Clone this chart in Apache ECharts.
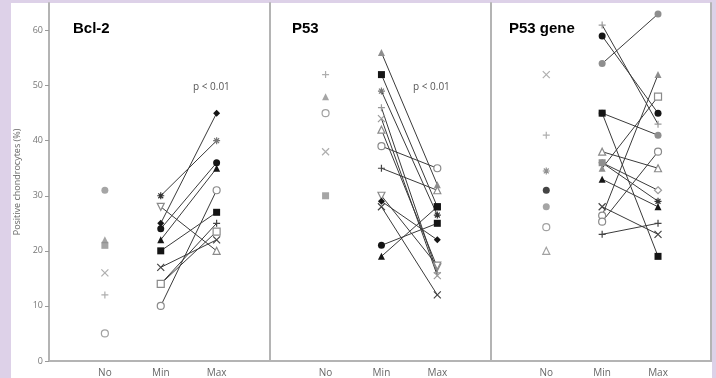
<!DOCTYPE html>
<html>
<head>
<meta charset="utf-8">
<script src="https://cdn.jsdelivr.net/npm/echarts@6/dist/echarts.min.js"></script>
<style>
html, body { margin: 0; padding: 0; background: #ddd1e8; }
#paper { position: absolute; left: 11px; top: 3px; width: 701px; height: 375px; background: #fff; }
#chart { position: absolute; left: 0; top: 0; width: 716px; height: 378px; }
</style>
</head>
<body>
<div id="paper"></div>
<div id="chart"></div>
<script>
// column labels (x = 1, 2, 3) and y ticks
const categories = ['No', 'Min', 'Max'];
const yTicks = [0, 10, 20, 30, 40, 50, 60];
const panelNames = ['Bcl-2', 'P53', 'P53 gene'];
const pValues = ['p < 0.01', 'p < 0.01'];

// Bcl-2
const bclNo = [31, 22, 21, 16, 12, 5];
const bclNoMarks = ['gdot', 'gtri', 'gsq', 'lcross', 'lplus', 'ring'];
const bclMin = [30, 28, 25, 24, 22, 20, 17, 14, 14, 10];
const bclMax = [40, 20, 45, 36, 35, 27, 22, 25, 23.5, 31];
const bclMinMarks = ['star', 'itri', 'dia', 'dot', 'tri', 'sq', 'cross', 'plus', 'osq', 'ring'];
const bclMaxMarks = ['gstar', 'otri', 'dia', 'dot', 'tri', 'sq', 'cross', 'plus', 'osq', 'ring'];

// P53
const p53No = [52, 48, 45, 38, 30];
const p53NoMarks = ['lplus', 'gtri', 'ring', 'lcross', 'gsq'];
const p53Min = [56, 52, 49, 46, 44, 42, 39, 35, 30, 29, 28, 21, 19];
const p53Max = [32, 28, 26.5, 16, 15.5, 17, 35, 31, 17.3, 22, 12, 25, 28];
const p53MinMarks = ['gtri', 'sq', 'gstar', 'lplus', 'lcross', 'otri', 'ring', 'plus', 'itri', 'dia', 'cross', 'dot', 'tri'];
const p53MaxMarks = ['gtri', 'sq', 'star', 'lplus', 'lcross', 'itri', 'ring', 'otri', 'itri', 'dia', 'cross', 'sq', 'sq'];

// P53 gene
const geneNo = [52, 41, 34.5, 31, 28, 24.3, 20];
const geneNoMarks = ['lcross', 'lplus', 'gstar', 'dot', 'gdot', 'ring', 'otri'];
const geneMin = [61, 59, 54, 45, 45, 38, 36, 35, 33, 28, 26.4, 25.3, 23, 36];
const geneMax = [43, 45, 63, 41, 19, 35, 29, 48, 28, 23, 52, 38, 25, 31];
const geneMinMarks = ['lplus', 'dot', 'gdot', 'gdot', 'sq', 'otri', 'gstar', 'gtri', 'tri', 'cross', 'ring', 'ring', 'plus', 'gsq'];
const geneMaxMarks = ['lplus', 'dot', 'gdot', 'gdot', 'sq', 'otri', 'star', 'osq', 'tri', 'cross', 'gtri', 'ring', 'plus', 'odia'];

const panels = [
	{ no: bclNo, noMarks: bclNoMarks, min: bclMin, max: bclMax, minMarks: bclMinMarks, maxMarks: bclMaxMarks },
	{ no: p53No, noMarks: p53NoMarks, min: p53Min, max: p53Max, minMarks: p53MinMarks, maxMarks: p53MaxMarks },
	{ no: geneNo, noMarks: geneNoMarks, min: geneMin, max: geneMax, minMarks: geneMinMarks, maxMarks: geneMaxMarks }
];

const PLUS = 'path://M5,0V10M0,5H10';
const CROSS = 'path://M0,0L10,10M10,0L0,10';
const STAR = 'path://M5,0V10M0,5H10M1.5,1.5L8.5,8.5M8.5,1.5L1.5,8.5';
const BLACK = '#151515';
const GREY = '#8e8e8e';
const marks = {
	dot: { symbol: 'circle', color: BLACK },
	gdot: { symbol: 'circle', color: GREY },
	ring: { symbol: 'circle', color: '#fff', border: '#8a8a8a' },
	sq: { symbol: 'rect', color: BLACK },
	gsq: { symbol: 'rect', color: GREY },
	osq: { symbol: 'rect', color: '#fff', border: '#8a8a8a' },
	tri: { symbol: 'triangle', color: BLACK },
	gtri: { symbol: 'triangle', color: GREY },
	otri: { symbol: 'triangle', color: '#fff', border: '#8a8a8a' },
	itri: { symbol: 'triangle', color: '#fff', border: '#8a8a8a', rotate: 180 },
	dia: { symbol: 'diamond', color: BLACK },
	odia: { symbol: 'diamond', color: '#fff', border: '#9a9a9a' },
	plus: { symbol: PLUS, color: 'none', border: '#444' },
	lplus: { symbol: PLUS, color: 'none', border: '#9a9a9a' },
	cross: { symbol: CROSS, color: 'none', border: '#444' },
	lcross: { symbol: CROSS, color: 'none', border: '#9a9a9a' },
	star: { symbol: STAR, color: 'none', border: '#333' },
	gstar: { symbol: STAR, color: 'none', border: '#777' }
};

function point(x, y, key) {
	const m = marks[key];
	return {
		value: [x, y],
		symbol: m.symbol,
		symbolRotate: m.rotate || 0,
		symbolSize: 7,
		itemStyle: {
			color: m.color,
			borderColor: m.border || m.color,
			borderWidth: m.border ? 1.2 : 0
		}
	};
}

const panelLeft = 49;
const panelWidth = 220.7;
const axisGrey = '#b4b4b4';
const font = 'Open Sans';

const grids = [];
const xAxes = [];
const yAxes = [];
const series = [];

panels.forEach((p, i) => {
	grids.push({ left: panelLeft + panelWidth * i, width: panelWidth, top: 3, bottom: 14 });
	xAxes.push({
		type: 'value',
		gridIndex: i,
		min: 0,
		max: 3.95,
		interval: 1,
		splitLine: { show: false },
		axisTick: { show: false },
		axisLine: { show: true, lineStyle: { color: axisGrey, width: 2 } },
		axisLabel: {
			customValues: [1, 2, 3],
			formatter: (v) => categories[v - 1] || '',
			color: '#666',
			fontSize: 10,
			fontFamily: font,
			margin: 7
		}
	});
	yAxes.push({
		type: 'value',
		gridIndex: i,
		min: 0,
		max: 65,
		interval: 10,
		splitLine: { show: false },
		axisLine: { show: true, lineStyle: { color: axisGrey, width: 2 } },
		axisTick: { show: i === 0, customValues: yTicks, length: 4, lineStyle: { color: '#999' } },
		axisLabel: { show: i === 0, customValues: yTicks, color: '#777', fontSize: 9, fontFamily: font, margin: 6 },
		name: i === 0 ? 'Positive chondrocytes (%)' : '',
		nameLocation: 'middle',
		nameGap: 27,
		nameTextStyle: { color: '#666', fontSize: 9, fontFamily: font }
	});
	series.push({
		type: 'scatter',
		xAxisIndex: i,
		yAxisIndex: i,
		silent: true,
		z: 3,
		data: p.no.map((v, k) => point(1, v, p.noMarks[k]))
	});
	p.min.forEach((v, k) => {
		series.push({
			type: 'line',
			xAxisIndex: i,
			yAxisIndex: i,
			silent: true,
			z: 2,
			lineStyle: { color: '#3a3a3a', width: 1 },
			data: [point(2, v, p.minMarks[k]), point(3, p.max[k], p.maxMarks[k])]
		});
	});
});

// right border of the last panel
yAxes.push({
	type: 'value',
	gridIndex: 2,
	position: 'right',
	min: 0,
	max: 65,
	splitLine: { show: false },
	axisTick: { show: false },
	axisLabel: { show: false },
	axisLine: { show: true, lineStyle: { color: axisGrey, width: 2 } }
});

const titleLefts = [73, 292, 509];
const pLefts = [193, 413];
const titles = panelNames.map((t, i) => ({
	text: t,
	left: titleLefts[i],
	top: 21,
	padding: 0,
	textStyle: { fontSize: 15, fontWeight: 'bold', color: '#000', fontFamily: 'Liberation Sans' }
})).concat(pValues.map((t, i) => ({
	text: t,
	left: pLefts[i],
	top: 82,
	padding: 0,
	textStyle: { fontSize: 10, fontWeight: 'normal', color: '#555', fontFamily: font }
})));

const chart = echarts.init(document.getElementById('chart'));
chart.setOption({
	animation: false,
	backgroundColor: 'transparent',
	title: titles,
	grid: grids,
	xAxis: xAxes,
	yAxis: yAxes,
	series
});
</script>
</body>
</html>
